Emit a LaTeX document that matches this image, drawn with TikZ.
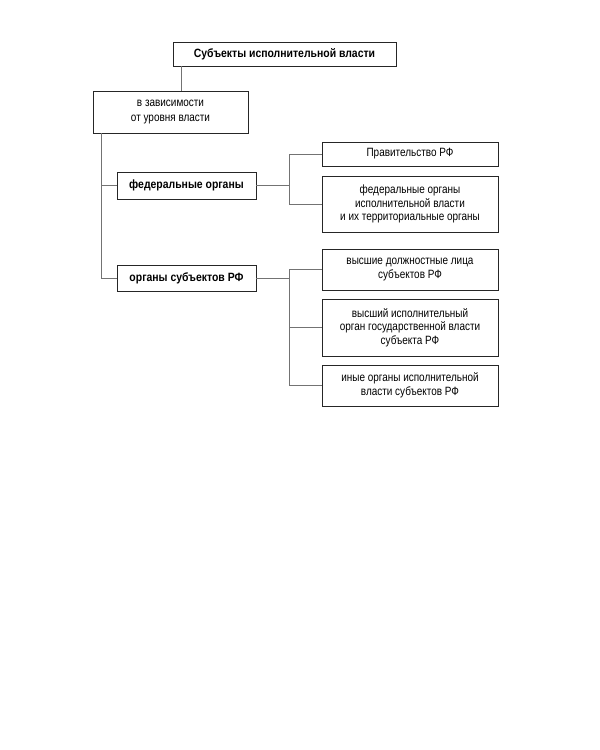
\documentclass[tikz,border=0pt]{standalone}
\usepackage{fontspec}
\setmainfont{Liberation Sans}[FakeStretch=0.83, BoldFeatures={FakeStretch=0.87}]
\usepackage{tikz}
\usetikzlibrary{positioning, calc}

\begin{document}
\begin{tikzpicture}[
    x=1pt, y=-1pt,
    box/.style={draw=black!85, line width=0.9pt, align=center, inner sep=2pt, font=\fontsize{12}{13.5}\selectfont},
    hbox/.style={box, font=\fontsize{12}{13.5}\selectfont\bfseries},
    link/.style={draw=black!55, line width=0.6pt}
]
\useasboundingbox (0,0) rectangle (600,750);

% Top level
\node[hbox, minimum width=223pt, minimum height=24pt] (top) at (284.5, 54) {Субъекты исполнительной власти};
\node[box, minimum width=155pt, minimum height=42pt, font=\fontsize{12}{15}\selectfont] (lvl) at (170.5, 112) {в зависимости\\от уровня власти};

% Second level
\node[hbox, minimum width=139pt, minimum height=27pt] (fed) at (186.5, 185.5) {федеральные органы};
\node[hbox, minimum width=139pt, minimum height=26pt] (sub) at (186.5, 278) {органы субъектов РФ};

% Federal bodies
\node[box, minimum width=176pt, minimum height=24pt] (gov) at (410, 154) {Правительство РФ};
\node[box, minimum width=176pt, minimum height=56pt] (fexec) at (410, 204) {федеральные органы\\исполнительной власти\\и их территориальные органы};

% Bodies of subjects
\node[box, minimum width=176pt, minimum height=41pt] (high) at (410, 269.5) {высшие должностные лица\\субъектов РФ};
\node[box, minimum width=176pt, minimum height=57pt] (hexec) at (410, 327.5) {высший исполнительный\\орган государственной власти\\субъекта РФ};
\node[box, minimum width=176pt, minimum height=41pt] (other) at (410, 385.5) {иные органы исполнительной\\власти субъектов РФ};

% Trunk
\coordinate (t1) at ([xshift=9pt]top.south west);
\coordinate (t2) at ([xshift=9pt]lvl.south west);
\draw[link] (t1) -- (t1 |- lvl.north);
\draw[link] (t2) -- (t2 |- sub.west) -- (sub.west);
\draw[link] (t2 |- fed.west) -- (fed.west);

% Federal branch
\coordinate (fb) at ($(fed.east)!0.5!(gov.west |- fed.east)$);
\draw[link] (fed.east) -- (fb);
\draw[link] (fb |- gov.west) -- (fb |- fexec.west);
\draw[link] (fb |- gov.west) -- (gov.west);
\draw[link] (fb |- fexec.west) -- (fexec.west);

% Subjects branch
\coordinate (sb) at ($(sub.east)!0.5!(high.west |- sub.east)$);
\draw[link] (sub.east) -- (sb);
\draw[link] (sb |- high.west) -- (sb |- other.west);
\foreach \n in {high, hexec, other}
  \draw[link] (sb |- \n.west) -- (\n.west);

\end{tikzpicture}
\end{document}
